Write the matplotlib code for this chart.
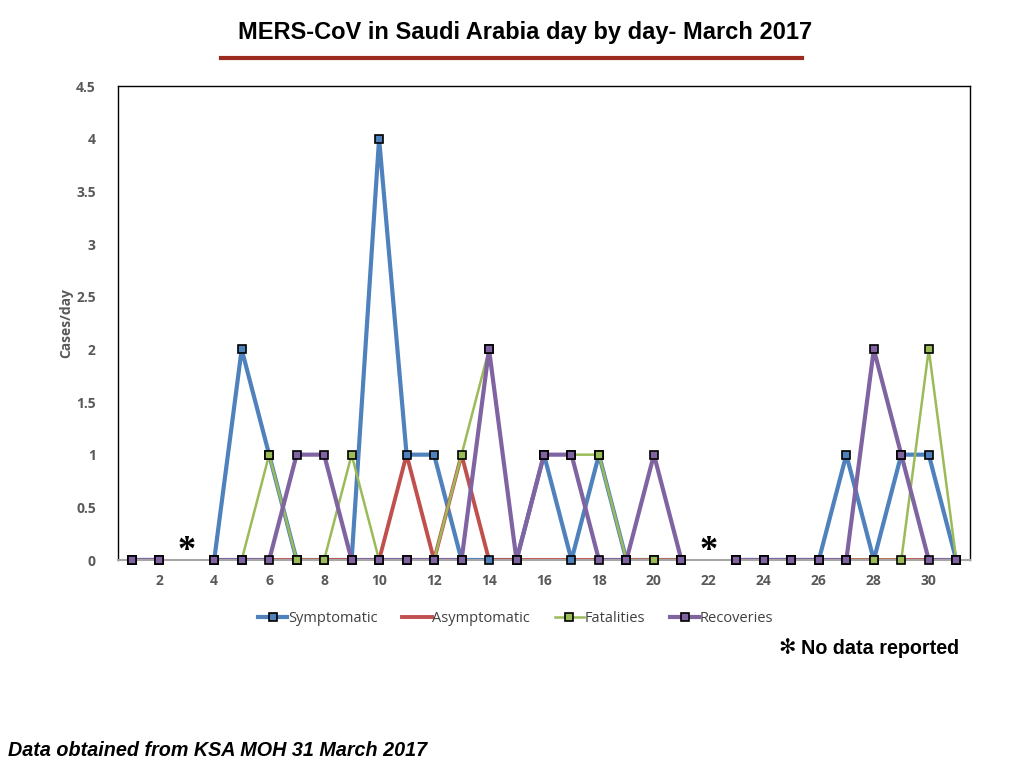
import numpy as np
import matplotlib
matplotlib.use("Agg")
import matplotlib.pyplot as plt
from matplotlib.lines import Line2D

nan = np.nan
days = list(range(1, 32))
symptomatic  = [0, 0, nan, 0, 2, 1, 0, 0, 0, 4, 1, 1, 0, 0, 0, 1, 0, 1, 0, 0, 0, nan, 0, 0, 0, 0, 1, 0, 1, 1, 0]
asymptomatic = [0, 0, nan, 0, 0, 0, 0, 0, 0, 0, 1, 0, 1, 0, 0, 0, 0, 0, 0, 0, 0, nan, 0, 0, 0, 0, 0, 0, 0, 0, 0]
fatalities   = [0, 0, nan, 0, 0, 1, 0, 0, 1, 0, 0, 0, 1, 2, 0, 1, 1, 1, 0, 0, 0, nan, 0, 0, 0, 0, 0, 0, 0, 2, 0]
recoveries   = [0, 0, nan, 0, 0, 0, 1, 1, 0, 0, 0, 0, 0, 2, 0, 1, 1, 0, 0, 1, 0, nan, 0, 0, 0, 0, 0, 2, 1, 0, 0]
no_data_days = [3, 22]
series_names = ["Symptomatic", "Asymptomatic", "Fatalities", "Recoveries"]
yticks = [0, 0.5, 1, 1.5, 2, 2.5, 3, 3.5, 4, 4.5]
ytick_labels = ["0", "0.5", "1", "1.5", "2", "2.5", "3", "3.5", "4", "4.5"]
xticks = list(range(2, 31, 2))

colors = ["#4F81BD", "#C0504D", "#9BBB59", "#8064A2"]
widths = [3.0, 2.8, 1.8, 3.0]
has_marker = [True, False, True, True]
data = [symptomatic, asymptomatic, fatalities, recoveries]

fig = plt.figure(figsize=(10.24, 7.68), dpi=100)
ax = fig.add_axes([118/1024, 1-560/768, 852/1024, 474/768])

x = np.array(days, dtype=float)
for vals, c, lw, mk in zip(data, colors, widths, has_marker):
    y = np.array(vals, dtype=float)
    ax.plot(x, y, color=c, lw=lw, solid_joinstyle='round', solid_capstyle='round', zorder=2)
for vals, c, lw, mk in zip(data, colors, widths, has_marker):
    if mk:
        y = np.array(vals, dtype=float)
        ax.plot(x, y, ls='none', marker='s', ms=6, mfc=c, mec='black', mew=1.2,
                clip_on=False, zorder=3)

ax.set_xlim(0.5, 31.5)
ax.set_ylim(0, 4.5)
ax.set_yticks(yticks)
ax.set_yticklabels(ytick_labels)
ax.set_xticks(xticks)
ax.set_xticklabels([str(t) for t in xticks])
ax.tick_params(length=0, labelsize=10, labelcolor="#595959")
ax.tick_params(axis='y', pad=16)
ax.tick_params(axis='x', pad=10)
for lab in ax.get_xticklabels() + ax.get_yticklabels():
    lab.set_fontweight('bold')
    lab.set_fontfamily('Open Sans')
for s in ['left', 'top', 'right']:
    ax.spines[s].set_color('black')
    ax.spines[s].set_linewidth(1.0)
ax.spines['bottom'].set_color('#A6A6A6')
ax.spines['bottom'].set_linewidth(1.5)
ax.set_ylabel("Cases/day", fontsize=10, color="#595959", fontweight='bold',
              family='Open Sans', labelpad=2)

for d in no_data_days:
    ax.text(d, -0.08, "*", ha='center', va='bottom', fontsize=26, fontweight='bold',
            family='Liberation Serif', color='black', clip_on=False)

handles = []
for name, c, lw, mk in zip(series_names, colors, widths, has_marker):
    handles.append(Line2D([0], [0], color=c, lw=lw, marker='s' if mk else None,
                          ms=6, mfc=c, mec='black', mew=1.2))
leg = ax.legend(handles, series_names, loc='upper center', bbox_to_anchor=(0.467, -0.08),
                ncol=4, frameon=False, handlelength=2.0, handletextpad=0.05,
                columnspacing=1.7, prop={'family': 'Open Sans', 'size': 10.5})
for t in leg.get_texts():
    t.set_color('#404040')

fig.text(525/1024, 1-32/768, "MERS-CoV in Saudi Arabia day by day- March 2017",
         ha='center', va='center', fontsize=17, fontweight='bold',
         family='Liberation Sans', color='black')
fig.add_artist(Line2D([221/1024, 802/1024], [1-58/768, 1-58/768], color='#9B2A1F', lw=3))

fig.text(778/1024, 1-648/768, "✻", ha='left', va='center', fontsize=15,
         family='DejaVu Sans', color='black')
fig.text(801/1024, 1-648/768, "No data reported", ha='left', va='center', fontsize=14.2,
         fontweight='bold', family='Liberation Sans', color='black')
fig.text(8/1024, 1-751/768, "Data obtained from KSA MOH 31 March 2017", ha='left', va='center',
         fontsize=14.2, fontweight='bold', style='italic', family='Liberation Sans', color='black')

fig.savefig("out.png", dpi=100)
